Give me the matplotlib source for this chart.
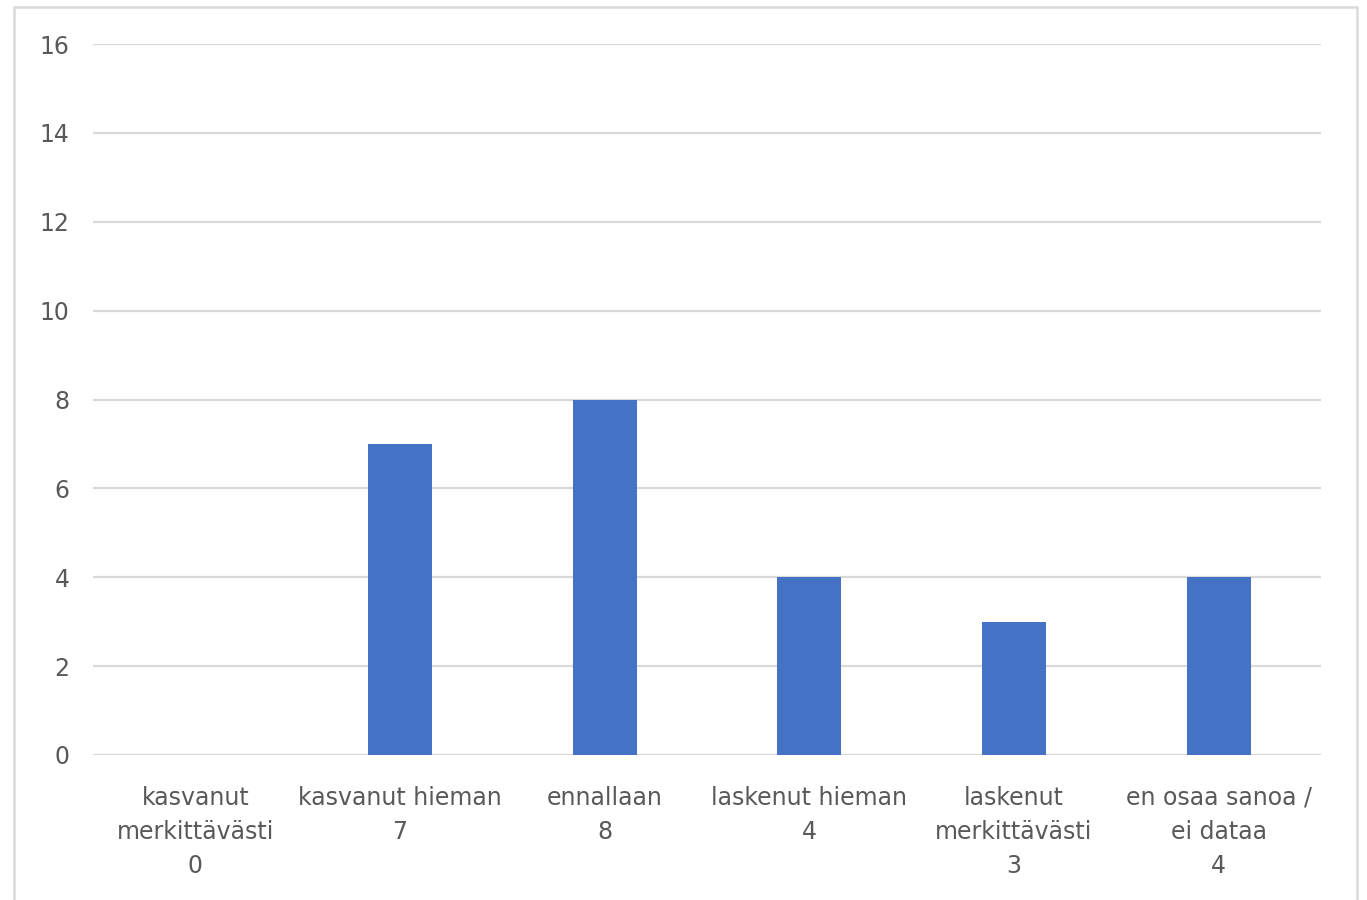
import matplotlib.pyplot as plt
from matplotlib.patches import Rectangle

# data
categories = ['kasvanut\nmerkittävästi', 'kasvanut hieman', 'ennallaan',
              'laskenut hieman', 'laskenut\nmerkittävästi', 'en osaa sanoa /\nei dataa']
values = [0, 7, 8, 4, 3, 4]
yticks = [0, 2, 4, 6, 8, 10, 12, 14, 16]

plt.rcParams['font.family'] = ['DejaVu Sans']

fig = plt.figure(figsize=(13.67, 9.0), dpi=100)
fig.set_facecolor('white')

# chart area border
fig.patches.append(Rectangle((14 / 1367, -0.01), (1357 - 14) / 1367, 1 - 7 / 900 + 0.01,
                             transform=fig.transFigure, fill=False,
                             edgecolor='#D9D9D9', linewidth=1.8))

ax = fig.add_axes([93 / 1367, 1 - 755 / 900, (1321 - 93) / 1367, (755 - 44) / 900])

x = list(range(len(categories)))
ax.bar(x, values, width=0.313, color='#4472C4', zorder=3)

labels = [f'{c}\n{v}' for c, v in zip(categories, values)]
ax.set_xticks(x)
ax.set_xticklabels(labels, fontsize=17, color='#595959', linespacing=1.55)
ax.set_xlim(-0.5, len(categories) - 0.5)

ax.set_ylim(0, 16)
ax.set_yticks(yticks)
ax.set_yticklabels([str(t) for t in yticks], fontsize=17, color='#595959')

ax.grid(axis='y', color='#D9D9D9', linewidth=1.6, zorder=0)
for s in ax.spines.values():
    s.set_visible(False)
ax.tick_params(axis='both', length=0)
ax.tick_params(axis='y', pad=17)
ax.tick_params(axis='x', pad=22)

plt.savefig('out.png', dpi=100)
